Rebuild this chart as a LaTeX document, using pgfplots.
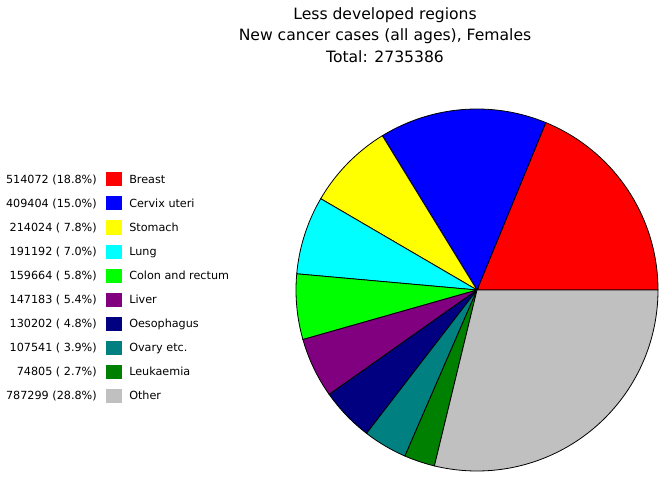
\documentclass[border=0pt]{standalone}
\usepackage{pgfplots}
\pgfplotsset{compat=1.18}
\usepackage{fontspec}
\setmainfont{DejaVu Sans}
\definecolor{cBreast}{RGB}{255,0,0}
\definecolor{cCervix}{RGB}{0,0,255}
\definecolor{cStomach}{RGB}{255,255,0}
\definecolor{cLung}{RGB}{0,255,255}
\definecolor{cColon}{RGB}{0,255,0}
\definecolor{cLiver}{RGB}{128,0,128}
\definecolor{cOeso}{RGB}{0,0,128}
\definecolor{cOvary}{RGB}{0,128,128}
\definecolor{cLeuk}{RGB}{0,128,0}
\definecolor{cOther}{RGB}{192,192,192}
% values: 514072 409404 214024 191192 159664 147183 130202 107541 74805 787299 ; total 2735386
% cumulative angles (deg) = 360 * cumulative / total
\def\aA{0}
\def\aB{67.656}
\def\aC{121.537}
\def\aD{149.705}
\def\aE{174.867}
\def\aF{195.879}
\def\aG{215.249}
\def\aH{232.386}
\def\aI{246.539}
\def\aJ{256.384}
\def\aK{360}
\newcommand{\slice}[3]{%
  \addplot[fill=#1, draw=black, line width=0.6pt, domain=#2:#3, samples=80]
    ({477+181*cos(x)},{290-181*sin(x)}) -- (axis cs:477,290) -- cycle;}
\newcommand{\legrow}[4]{%
  \node[anchor=base east, inner sep=0pt, font=\fontsize{8.4}{10}\selectfont] at (axis cs:97,#1+4.5) {#2};
  \fill[#3] (axis cs:106,#1-6.5) rectangle (axis cs:122,#1+7.5);
  \node[anchor=base west, inner sep=0pt, font=\fontsize{8.4}{10}\selectfont] at (axis cs:129,#1+4.5) {#4};}
\begin{document}
\begin{tikzpicture}
\begin{axis}[
  scale only axis, width=502.5pt, height=371.25pt,
  xmin=0, xmax=670, ymin=0, ymax=495, y dir=reverse,
  hide axis, clip=false]
\slice{cBreast}{\aA}{\aB}
\slice{cCervix}{\aB}{\aC}
\slice{cStomach}{\aC}{\aD}
\slice{cLung}{\aD}{\aE}
\slice{cColon}{\aE}{\aF}
\slice{cLiver}{\aF}{\aG}
\slice{cOeso}{\aG}{\aH}
\slice{cOvary}{\aH}{\aI}
\slice{cLeuk}{\aI}{\aJ}
\slice{cOther}{\aJ}{\aK}
\node[font=\fontsize{11.7}{13}\selectfont] at (axis cs:385,15) {Less developed regions};
\node[font=\fontsize{11.7}{13}\selectfont] at (axis cs:385,36) {New cancer cases (all ages), Females};
\node[font=\fontsize{11.7}{13}\selectfont] at (axis cs:385,57) {Total: 2735386};
\legrow{179}{514072 (18.8\%)}{cBreast}{Breast}
\legrow{203}{409404 (15.0\%)}{cCervix}{Cervix uteri}
\legrow{227}{214024 ( 7.8\%)}{cStomach}{Stomach}
\legrow{251}{191192 ( 7.0\%)}{cLung}{Lung}
\legrow{275}{159664 ( 5.8\%)}{cColon}{Colon and rectum}
\legrow{299}{147183 ( 5.4\%)}{cLiver}{Liver}
\legrow{323}{130202 ( 4.8\%)}{cOeso}{Oesophagus}
\legrow{347}{107541 ( 3.9\%)}{cOvary}{Ovary etc.}
\legrow{371}{74805 ( 2.7\%)}{cLeuk}{Leukaemia}
\legrow{395}{787299 (28.8\%)}{cOther}{Other}
\end{axis}
\pgfresetboundingbox
\path[use as bounding box] (current axis.south west) rectangle (current axis.north east);
\end{tikzpicture}
\end{document}
